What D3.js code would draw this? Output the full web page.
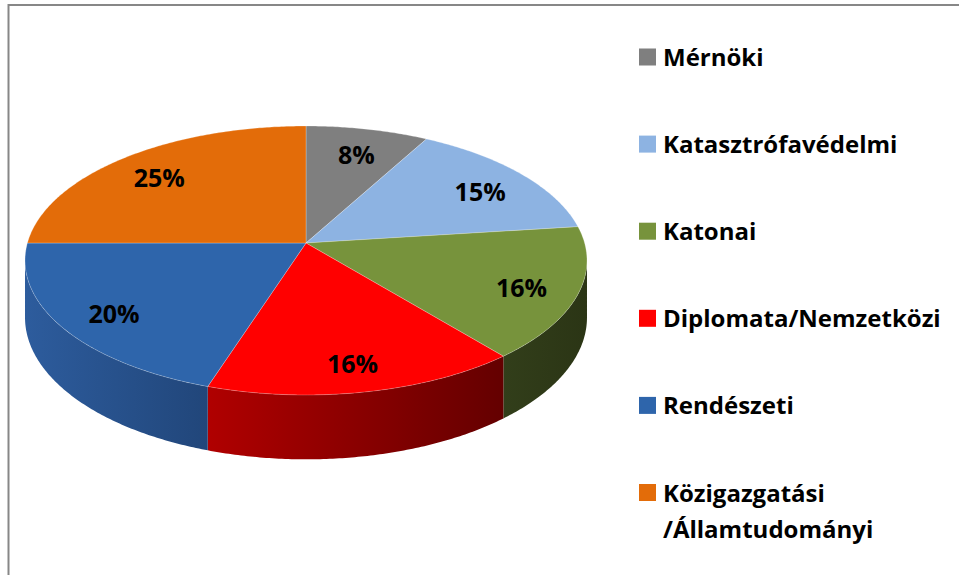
<!DOCTYPE html>
<html>
<head>
<meta charset="utf-8">
<script src="https://cdn.jsdelivr.net/npm/d3@7"></script>
<style>
  html, body { margin: 0; padding: 0; background: #fff; }
  svg { display: block; }
  text { font-family: "Open Sans", "Lato", sans-serif; font-weight: 700; }
</style>
</head>
<body>
<svg id="chart" width="959" height="575"></svg>
<script>
// ---- data ----
const categories = ["Mérnöki", "Katasztrófavédelmi", "Katonai", "Diplomata/Nemzetközi", "Rendészeti", "Közigazgatási /Államtudományi"];
const legendLines = [["Mérnöki"], ["Katasztrófavédelmi"], ["Katonai"], ["Diplomata/Nemzetközi"], ["Rendészeti"], ["Közigazgatási", "/Államtudományi"]];
const values = [8, 15, 16, 16, 20, 25];
const topColors = ["#7f7f7f", "#8db3e2", "#77933c", "#ff0000", "#2e65ab", "#e36c09"];
const sideLight = ["#5a5a5a", "#5f7fa6", "#323e1a", "#b00000", "#2d5c9d", "#a44f07"];
const sideDark  = ["#3f3f3f", "#445d7a", "#2b3515", "#640000", "#21467a", "#7a3a05"];

// ---- geometry ----
const svg = d3.select("#chart");
const cx = 306, cy = 243, RX = 278.6, RY = 132.2, persp = 0.13, thick = 56;
const xs = d3.scaleLinear().domain([-1, 1]).range([cx - RX, cx + RX]);
const ys = d3.scaleLinear().domain([-1, 1]).range([cy + RY, cy - RY]);

function proj(theta, f = 1, bottom = false) {
  const v = Math.sin(theta) * f, u = Math.cos(theta) * f;
  const d = 1 + persp * u;
  return [xs(v / d), ys(u / d) + (bottom ? thick / d : 0)];
}

const pie = d3.pie().sort(null).value(d => d)(values);

// border
svg.append("rect").attr("x", 8.5).attr("y", 5).attr("width", 1200).attr("height", 1200)
  .attr("fill", "none").attr("stroke", "#878787").attr("stroke-width", 2);

const defs = svg.append("defs");
pie.forEach((s, i) => {
  const g = defs.append("linearGradient").attr("id", "side" + i)
    .attr("x1", "0").attr("y1", "0").attr("x2", "1").attr("y2", "0");
  g.append("stop").attr("offset", "0").attr("stop-color", sideLight[i]);
  g.append("stop").attr("offset", "1").attr("stop-color", sideDark[i]);
});

// visible side range (silhouette extremes)
let thR = 0, thL = Math.PI, best = -1e9, worst = 1e9;
for (let t = 0; t <= Math.PI; t += 0.001) { const x = proj(t)[0]; if (x > best) { best = x; thR = t; } }
for (let t = Math.PI; t <= 2 * Math.PI; t += 0.001) { const x = proj(t)[0]; if (x < worst) { worst = x; thL = t; } }

function arcPts(a, b, f, bottom) {
  const n = Math.max(2, Math.ceil((b - a) / 0.01));
  const pts = [];
  for (let k = 0; k <= n; k++) pts.push(proj(a + (b - a) * k / n, f, bottom));
  return pts;
}

const line = d3.line();
// sides
pie.forEach((s, i) => {
  const a = Math.max(s.startAngle, thR), b = Math.min(s.endAngle, thL);
  if (b <= a) return;
  const top = arcPts(a, b, 1, false);
  const bot = arcPts(a, b, 1, true).reverse();
  svg.append("path").attr("d", line(top.concat(bot)) + "Z")
    .attr("fill", `url(#side${i})`);
});
// top faces
pie.forEach((s, i) => {
  const pts = [[cx, cy]].concat(arcPts(s.startAngle, s.endAngle, 1, false));
  svg.append("path").attr("d", line(pts) + "Z")
    .attr("fill", topColors[i])
    .attr("stroke", "rgba(255,255,255,0.3)").attr("stroke-width", 0.8).attr("stroke-linejoin", "round");
});

// labels
const total = d3.sum(values);
pie.forEach((s, i) => {
  const mid = (s.startAngle + s.endAngle) / 2;
  const [x, y] = proj(mid, 0.8);
  svg.append("text").attr("x", x).attr("y", y + 5).attr("dy", "0.36em")
    .attr("text-anchor", "middle").attr("font-size", 25).attr("fill", "#000")
    .text(d3.format(".0%")(s.value / total));
});

// legend
const ly = d3.scaleLinear().domain([0, 5]).range([48.5, 484]);
legendLines.forEach((lines, i) => {
  const y0 = ly(i);
  svg.append("rect").attr("x", 639).attr("y", y0).attr("width", 17).attr("height", 17).attr("fill", topColors[i]);
  lines.forEach((t, j) => {
    svg.append("text").attr("x", 663).attr("y", y0 + 17.5 + j * 36)
      .attr("font-size", 24).attr("fill", "#000").text(t);
  });
});
</script>
</body>
</html>
